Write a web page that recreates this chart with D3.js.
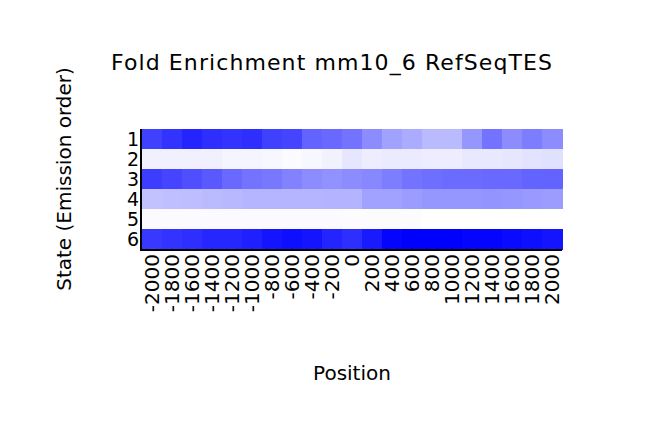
<!DOCTYPE html>
<html>
<head>
<meta charset="utf-8">
<script src="https://cdn.jsdelivr.net/npm/d3@7"></script>
<style>
  html, body { margin: 0; padding: 0; background: #fff; }
  svg { display: block; font-family: "DejaVu Sans", sans-serif; }
</style>
</head>
<body>
<svg id="chart" width="662" height="437"></svg>
<script>
const positions = ["-2000","-1800","-1600","-1400","-1200","-1000","-800","-600","-400","-200","0","200","400","600","800","1000","1200","1400","1600","1800","2000"];
const states = ["1","2","3","4","5","6"];
const state1 = [0.75,0.80,0.86,0.82,0.80,0.82,0.75,0.73,0.61,0.59,0.55,0.45,0.37,0.33,0.27,0.27,0.41,0.55,0.45,0.51,0.45];
const state2 = [0.06,0.06,0.06,0.06,0.04,0.04,0.03,0.02,0.03,0.05,0.10,0.07,0.08,0.08,0.07,0.07,0.09,0.09,0.10,0.11,0.12];
const state3 = [0.76,0.73,0.69,0.65,0.59,0.55,0.53,0.49,0.45,0.43,0.45,0.47,0.51,0.55,0.57,0.58,0.58,0.59,0.59,0.61,0.61];
const state4 = [0.24,0.25,0.26,0.27,0.28,0.29,0.29,0.29,0.29,0.30,0.30,0.37,0.37,0.39,0.41,0.41,0.41,0.42,0.41,0.40,0.39];
const state5 = [0.02,0.02,0.02,0.02,0.02,0.02,0.02,0.02,0.02,0.02,0.01,0.01,0.01,0.01,0,0,0,0,0,0,0];
const state6 = [0.78,0.80,0.82,0.85,0.85,0.88,0.92,0.94,0.92,0.86,0.82,0.90,0.98,1,1,1,0.98,0.98,0.96,0.94,0.92];
const titleText = "Fold Enrichment mm10_6 RefSeqTES";
const xTitle = "Position";
const yTitle = "State (Emission order)";

const rows = [state1, state2, state3, state4, state5, state6];
const cells = [];
rows.forEach((r, i) => r.forEach((v, j) => cells.push({state: states[i], pos: positions[j], v})));

const svg = d3.select("#chart");
const pLeft = 142, pRight = 562, pTop = 129, pBottom = 249;

const x = d3.scaleBand().domain(positions).range([pLeft, pRight]);
const y = d3.scaleBand().domain(states).range([pTop, pBottom]);
const color = d3.scaleLinear().domain([0, 1]).range(["#ffffff", "#0000ff"]);

svg.append("g").selectAll("rect").data(cells).join("rect")
  .attr("x", d => x(d.pos))
  .attr("y", d => y(d.state))
  .attr("width", x.bandwidth() + 0.5)
  .attr("height", y.bandwidth() + 0.5)
  .attr("fill", d => color(d.v))
  .attr("shape-rendering", "crispEdges");

// axes
const xAxis = d3.axisBottom(x).tickSize(0);
const gx = svg.append("g").attr("transform", `translate(0,${pBottom + 1})`).call(xAxis);
gx.select(".domain").attr("d", `M${pLeft - 2},0H${pRight}`).attr("stroke", "#000").attr("stroke-width", 2);
gx.selectAll(".tick text")
  .attr("font-size", 20)
  .attr("font-family", "DejaVu Sans, sans-serif")
  .attr("fill", "#000")
  .attr("text-anchor", "end")
  .attr("transform", "translate(0,4) rotate(-90)")
  .attr("x", 0).attr("y", 0).attr("dy", "0.35em");

const yAxis = d3.axisLeft(y).tickSize(0);
const gy = svg.append("g").attr("transform", `translate(${pLeft - 1},0)`).call(yAxis);
gy.select(".domain").attr("d", `M0,${pTop}V${pBottom + 2}`).attr("stroke", "#000").attr("stroke-width", 2);
gy.selectAll(".tick text")
  .attr("font-size", 19)
  .attr("font-family", "DejaVu Sans, sans-serif")
  .attr("fill", "#000")
  .attr("x", -2).attr("dy", "0.35em");

svg.append("text").attr("x", 111).attr("y", 70)
  .attr("font-size", 22).attr("textLength", 441).attr("lengthAdjust", "spacing").text(titleText);
svg.append("text").attr("x", 352).attr("y", 380).attr("text-anchor", "middle")
  .attr("font-size", 20).text(xTitle);
svg.append("text").attr("transform", "translate(71,179) rotate(-90)").attr("text-anchor", "middle")
  .attr("font-size", 20).text(yTitle);
</script>
</body>
</html>
